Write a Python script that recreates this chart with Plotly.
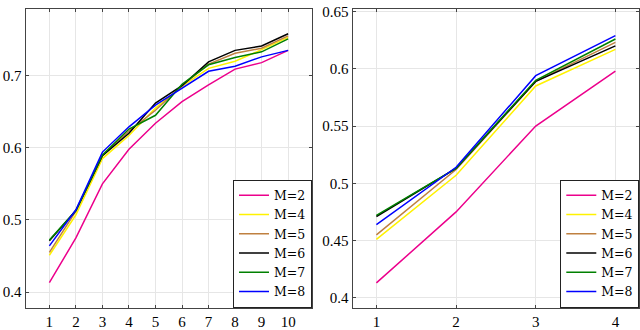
import plotly.graph_objects as go

# accuracy per step for each M (right panel shows the first four steps)
steps = [1, 2, 3, 4, 5, 6, 7, 8, 9, 10]
m2 = [0.413, 0.475, 0.550, 0.598, 0.634, 0.664, 0.687, 0.709, 0.718, 0.735]
m4 = [0.451, 0.507, 0.585, 0.617, 0.655, 0.685, 0.710, 0.720, 0.736, 0.753]
m5 = [0.455, 0.512, 0.589, 0.623, 0.652, 0.686, 0.716, 0.731, 0.738, 0.755]
m6 = [0.471, 0.513, 0.589, 0.620, 0.662, 0.686, 0.719, 0.735, 0.741, 0.758]
m7 = [0.472, 0.513, 0.590, 0.626, 0.645, 0.688, 0.715, 0.725, 0.733, 0.751]
m8 = [0.464, 0.514, 0.594, 0.629, 0.659, 0.683, 0.706, 0.713, 0.726, 0.735]

names = ["M=2", "M=4", "M=5", "M=6", "M=7", "M=8"]
series = [m2, m4, m5, m6, m7, m8]
colors = ["#ec008c", "#fff200", "#bf8040", "#000000", "#008000", "#0000ff"]

font = dict(family="Liberation Serif", size=15, color="black")
legend_font = dict(family="DejaVu Serif", size=12.5, color="black")

fig = go.Figure()
for name, ys, c in zip(names, series, colors):
    fig.add_trace(go.Scatter(
        x=steps, y=ys, name=name, mode="lines",
        line=dict(color=c, width=1.5),
        xaxis="x", yaxis="y", legend="legend"
    ))
for name, ys, c in zip(names, series, colors):
    fig.add_trace(go.Scatter(
        x=steps[:4], y=ys[:4], name=name, mode="lines",
        line=dict(color=c, width=1.5),
        xaxis="x2", yaxis="y2", legend="legend2"
    ))

axis_style = dict(
    showgrid=True, gridcolor="#e6e6e6", gridwidth=1,
    showline=True, linecolor="#444444", linewidth=1, mirror="ticks",
    ticks="inside", ticklen=3, tickcolor="#444444",
    zeroline=False, tickfont=font, ticklabeloverflow="allow"
)
legend_style = dict(
    bgcolor="white", bordercolor="#222222", borderwidth=1,
    font=legend_font, xanchor="right", yanchor="bottom",
    tracegroupgap=0, itemwidth=30
)

y0, y1 = 1 - 312 / 330, 1 - 4 / 330
fig.update_layout(
    width=640, height=330,
    margin=dict(l=0, r=0, t=0, b=0),
    paper_bgcolor="white", plot_bgcolor="white",
    font=font,
    xaxis=dict(axis_style, domain=[25.5 / 640, 312 / 640],
               range=[0.1, 10.9], tickvals=steps),
    yaxis=dict(axis_style, domain=[y0, y1],
               range=[0.3785, 0.7925], tickvals=[0.4, 0.5, 0.6, 0.7]),
    xaxis2=dict(axis_style, domain=[352.5 / 640, 639.3 / 640],
                range=[0.7, 4.3], tickvals=[1, 2, 3, 4], anchor="y2"),
    yaxis2=dict(axis_style, domain=[y0, y1], anchor="x2",
                range=[0.3915, 0.6523],
                tickvals=[0.4, 0.45, 0.5, 0.55, 0.6, 0.65]),
    legend=dict(legend_style, x=312 / 640, y=y0),
    legend2=dict(legend_style, x=639.3 / 640, y=y0),
)

# the page body has a default 8px margin; drop it so the figure fills the window
fig.write_html("out.html", config={"displayModeBar": False},
               post_script="document.body.style.margin='0';")
